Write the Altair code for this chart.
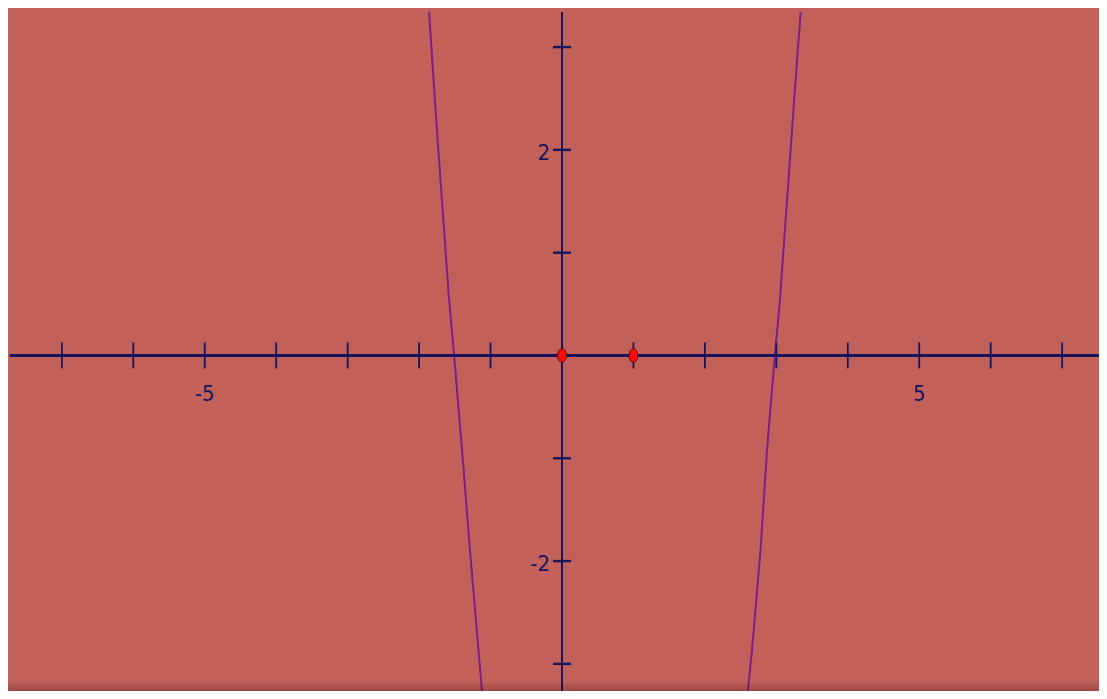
import altair as alt
import pandas as pd

# ---- data ----
x_ticks = [-7, -6, -5, -4, -3, -2, -1, 1, 2, 3, 4, 5, 6, 7]
y_ticks = [-3, -2, -1, 1, 2, 3]
x_label_vals = [-5, 5]
y_label_vals = [-2, 2]

curve_y = [3.34, 2.49, 1.51, 0.54, 0.0, -0.91, -1.88, -2.86, -3.34]
left_x = [-1.86, -1.78, -1.68, -1.58, -1.51, -1.40, -1.29, -1.17, -1.11]
right_x = [3.34, 3.25, 3.15, 3.05, 2.98, 2.87, 2.78, 2.66, 2.59]

points_x = [0, 1]
points_y = [0, 0]

x_axis_start, x_axis_end = -7.73, 7.63
y_axis_top, y_axis_bottom = 3.34, -3.34

X_DOMAIN = [-7.754, 7.516]
Y_DOMAIN = [-3.264, 3.380]
W, H = 1091, 683
TICK_HALF = 0.126

BG = "#c2605a"
NAVY = "#17155e"
PURPLE = "#7a1f8b"
FONT = "DejaVu Sans Condensed, Liberation Sans Narrow, Liberation Sans, sans-serif"

xs = alt.Scale(domain=X_DOMAIN, nice=False, zero=False)
ys = alt.Scale(domain=Y_DOMAIN, nice=False, zero=False)

def X(field="x"):
    return alt.X(f"{field}:Q", scale=xs, axis=None)

def Y(field="y"):
    return alt.Y(f"{field}:Q", scale=ys, axis=None)

# curves
rows = []
for i, (yv, xv) in enumerate(zip(curve_y, left_x)):
    rows.append({"x": xv, "y": yv, "c": "left", "o": i})
for i, (yv, xv) in enumerate(zip(curve_y, right_x)):
    rows.append({"x": xv, "y": yv, "c": "right", "o": i})
curves = alt.Chart(pd.DataFrame(rows)).mark_line(
    color=PURPLE, strokeWidth=2, clip=True
).encode(x=X(), y=Y(), detail="c:N", order="o:Q")

# axes lines
xaxis = alt.Chart(pd.DataFrame({"x": [x_axis_start], "x2": [x_axis_end], "y": [0]})).mark_rule(
    color=NAVY, strokeWidth=3, clip=True
).encode(x=X(), x2="x2:Q", y=Y())
yaxis = alt.Chart(pd.DataFrame({"y": [y_axis_top], "y2": [y_axis_bottom], "x": [0]})).mark_rule(
    color=NAVY, strokeWidth=2, clip=True
).encode(y=Y(), y2="y2:Q", x=X())

# ticks
xt = pd.DataFrame({"x": x_ticks})
xt["y"] = -TICK_HALF
xt["y2"] = TICK_HALF
xtick = alt.Chart(xt).mark_rule(color=NAVY, strokeWidth=1.8).encode(x=X(), y=Y(), y2="y2:Q")

yt = pd.DataFrame({"y": y_ticks})
yt["x"] = -TICK_HALF
yt["x2"] = TICK_HALF
ytick = alt.Chart(yt).mark_rule(color=NAVY, strokeWidth=2.4).encode(y=Y(), x=X(), x2="x2:Q")

# labels
xl = pd.DataFrame({"x": x_label_vals, "y": [0, 0], "t": [str(v) for v in x_label_vals]})
xlab = alt.Chart(xl).mark_text(
    font=FONT, fontSize=22, color=NAVY, align="center", baseline="alphabetic", dy=46
).encode(x=X(), y=Y(), text="t:N")

yl = pd.DataFrame({"y": y_label_vals, "x": [0, 0], "t": [str(v) for v in y_label_vals]})
ylab = alt.Chart(yl).mark_text(
    font=FONT, fontSize=22, color=NAVY, align="right", baseline="alphabetic", dx=-12, dy=10
).encode(x=X(), y=Y(), text="t:N")

# points (ellipses)
ellipse = "M-1,0 A1,1.5 0 1,0 1,0 A1,1.5 0 1,0 -1,0 Z"
pts = alt.Chart(pd.DataFrame({"x": points_x, "y": points_y})).mark_point(
    shape=ellipse, size=80, filled=True, fill="#ff0a0a", stroke="#5a0d0d", strokeWidth=1, opacity=1
).encode(x=X(), y=Y())

# bottom shadow
shadow = alt.Chart(pd.DataFrame({"x": [X_DOMAIN[0]], "x2": [X_DOMAIN[1]], "y": [-3.17], "y2": [Y_DOMAIN[0]]})).mark_rect(
    color=alt.Gradient(
        gradient="linear", x1=0, y1=0, x2=0, y2=1,
        stops=[alt.GradientStop(offset=0, color="rgba(40,0,0,0)"),
               alt.GradientStop(offset=1, color="rgba(40,0,0,0.25)")]
    )
).encode(x=X(), x2="x2:Q", y=Y(), y2="y2:Q")

chart = alt.layer(curves, xaxis, yaxis, xtick, ytick, xlab, ylab, pts, shadow).properties(
    width=W, height=H, background=BG, padding=0, autosize=alt.AutoSizeParams(type="none")
).configure_view(stroke=None)

chart.save("out.html", embed_options={"renderer": "svg", "actions": False})
